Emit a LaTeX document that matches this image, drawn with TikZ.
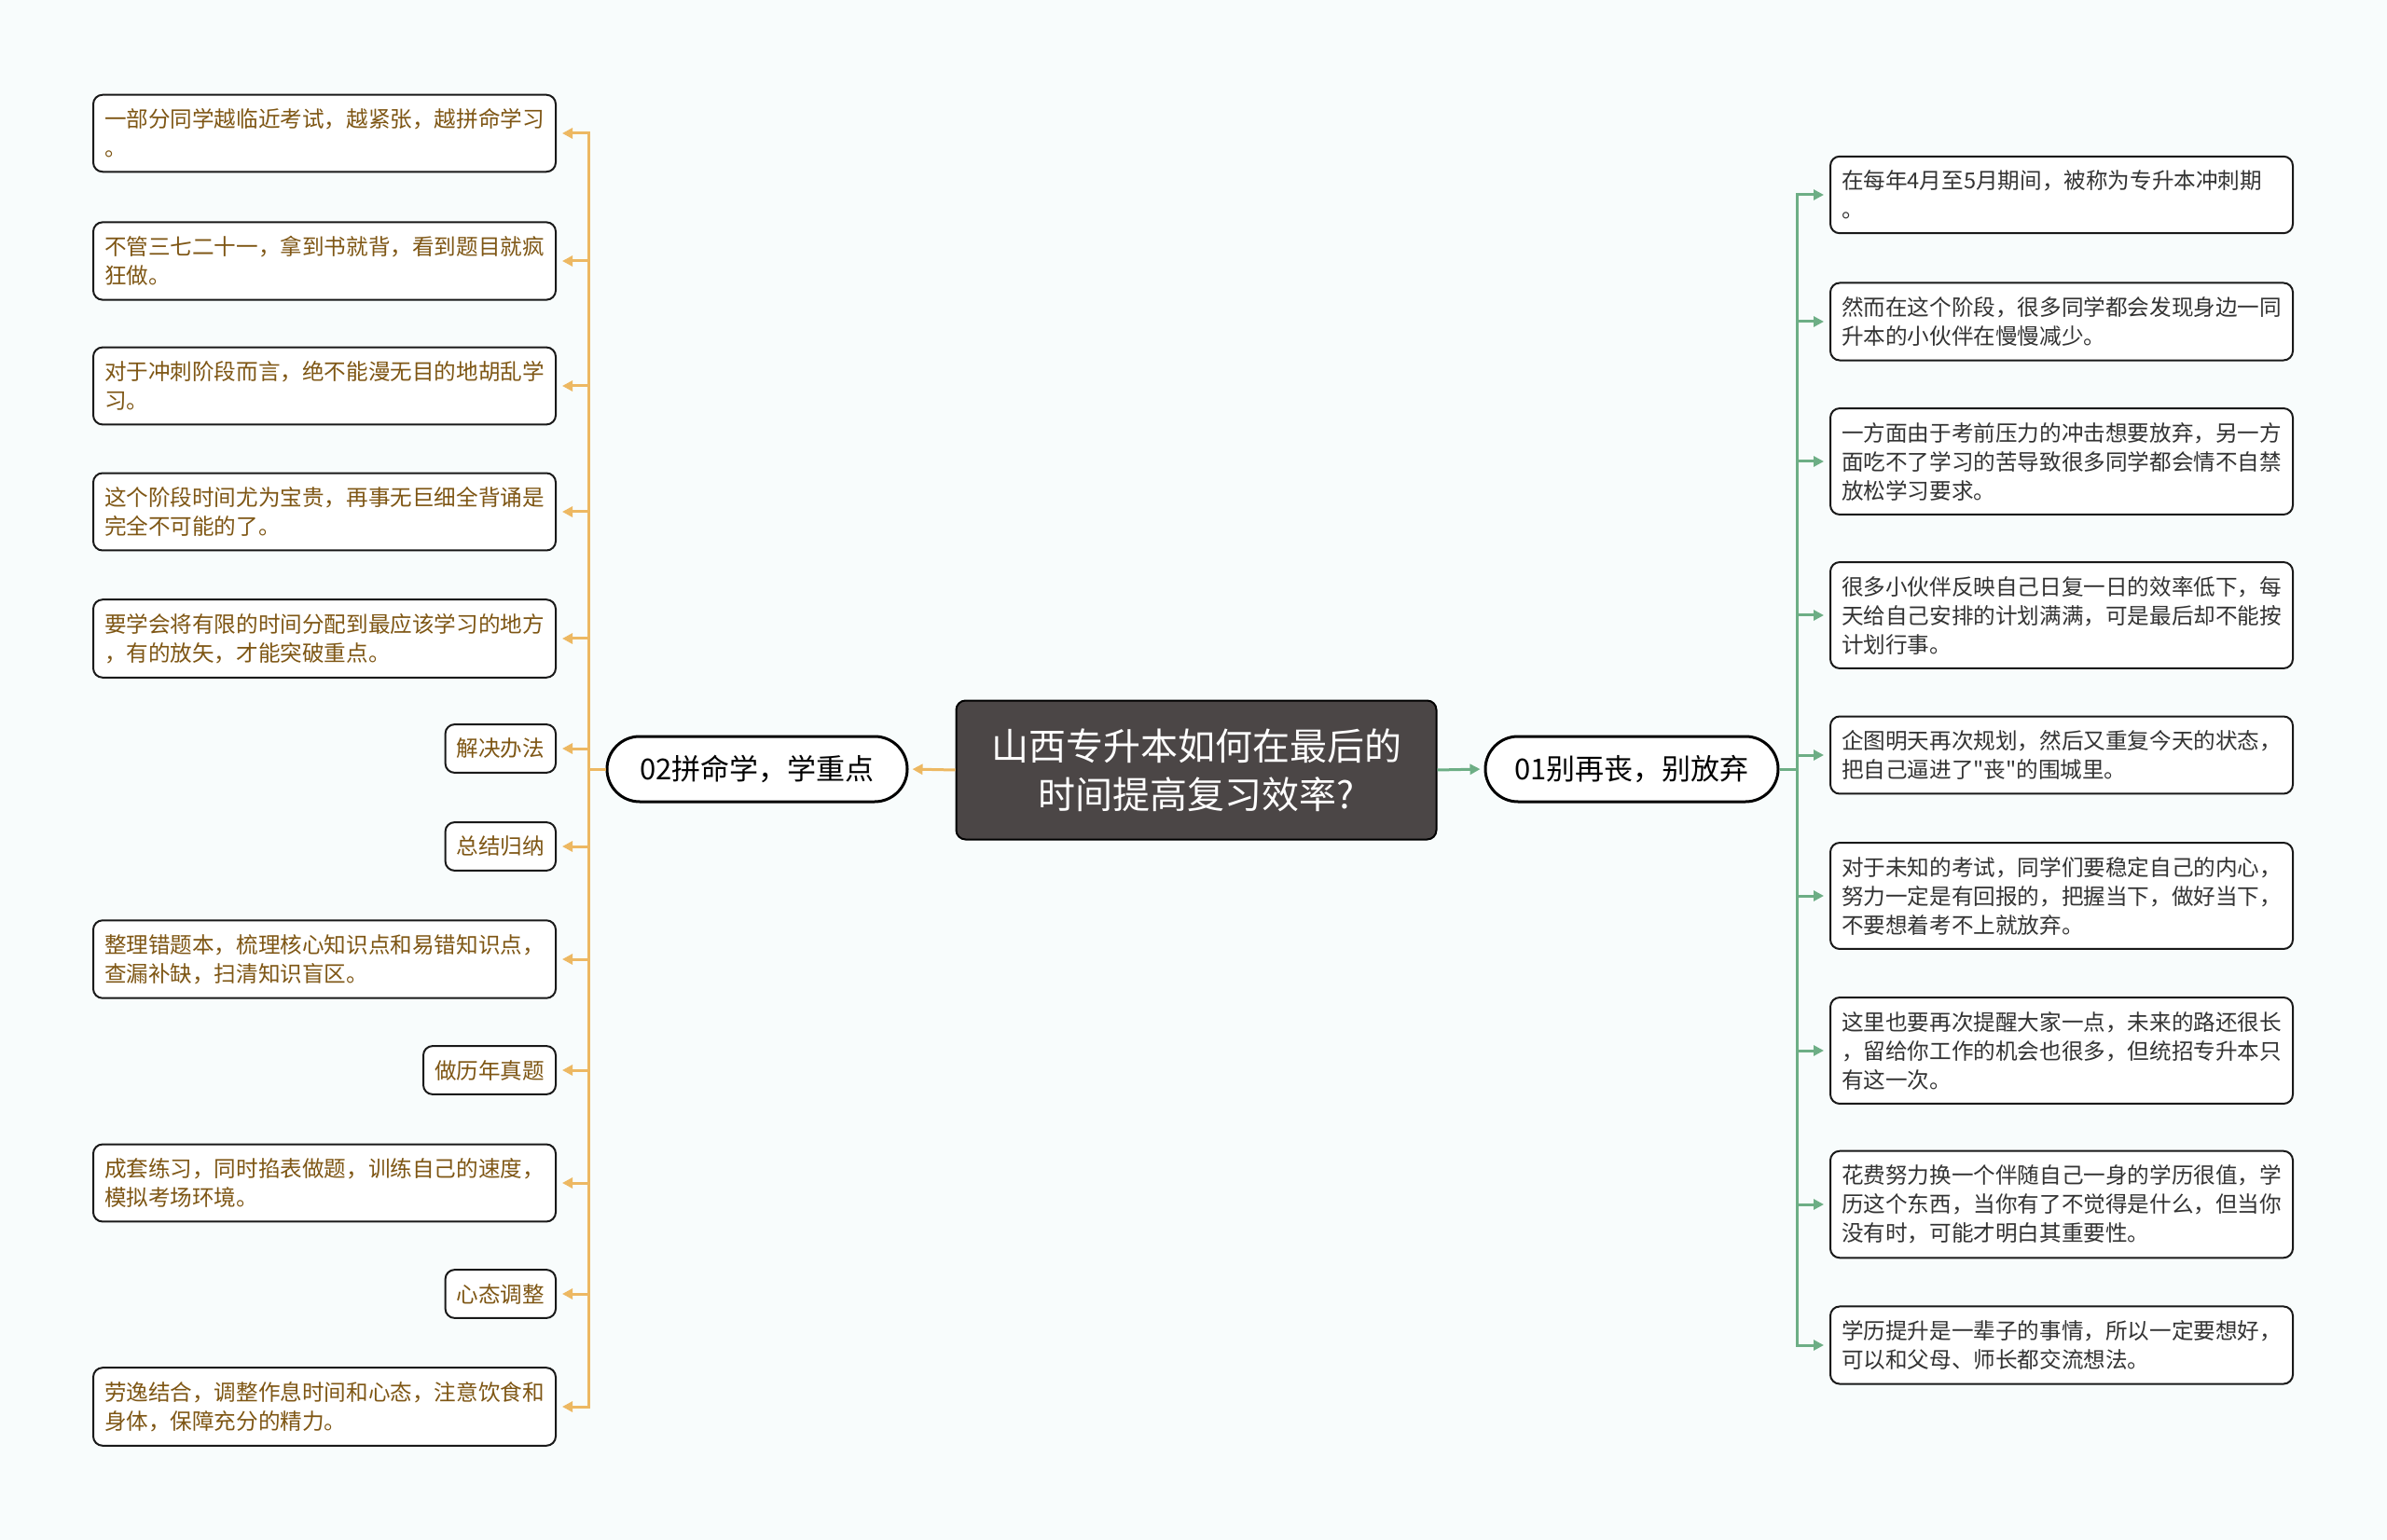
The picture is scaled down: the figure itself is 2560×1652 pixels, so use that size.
\documentclass[tikz,border=0pt]{standalone}
\usepackage{fontspec}
\usepackage{xcolor}
\usetikzlibrary{arrows.meta,positioning}
\newfontfamily\cjk{Noto Sans CJK SC}
\definecolor{Bg}{HTML}{F8FCFC}
\definecolor{RootFill}{HTML}{4B4646}
\definecolor{Gold}{HTML}{EDB862}
\definecolor{GoldText}{HTML}{7E5614}
\definecolor{Sage}{HTML}{6DAE85}
\definecolor{Ink}{HTML}{333333}
\tikzset{
  root/.style={draw=black,fill=RootFill,line width=1pt,rounded corners=5pt,minimum width=257.5pt,minimum height=74.5pt,align=center,text=white,font=\cjk\fontsize{20}{26}\selectfont},
  branch/.style={draw=black,fill=white,line width=1.5pt,rounded corners=17.5pt,minimum height=35pt,align=center,text=black,font=\cjk\fontsize{15.5}{18}\selectfont},
  leaf/.style={draw=black!90,fill=white,line width=1pt,rounded corners=5pt,inner xsep=6pt,inner ysep=7.5pt,font=\cjk\fontsize{11.8}{15.5}\selectfont},
  lleaf/.style={leaf,text=GoldText,anchor=east},
  rleaf/.style={leaf,text=Ink,anchor=west},
  wide/.style={text width=236pt,align=left},
  oarr/.style={-{Triangle[length=5.5pt,width=5.5pt]},draw=Gold,line width=1.5pt},
  garr/.style={-{Triangle[length=5.5pt,width=5.5pt]},draw=Sage,line width=1.5pt}
}
\begin{document}
\begin{tikzpicture}[x=0.5pt,y=-0.5pt]
  \useasboundingbox (0,0) rectangle (2560,1652);
  \fill[Bg] (0,0) rectangle (2560,1652);
  % centre and the two branches
  \node[root] (root) at (1283,826) {山西专升本如何在最后的\\时间提高复习效率?};
  \node[branch,minimum width=161pt] (l02) at (812,825) {02拼命学，学重点};
  \node[branch,minimum width=157pt] (r01) at (1750,825) {01别再丧，别放弃};
  \coordinate (ltrunk) at (631,0);
  \coordinate (rtrunk) at (1927,0);
  % left leaves
  \node[lleaf,wide] (lf1) at (597,143) {一部分同学越临近考试，越紧张，越拼命学习\\。};
  \node[lleaf,wide] (lf2) at (597,280) {不管三七二十一，拿到书就背，看到题目就疯\\狂做。};
  \node[lleaf,wide] (lf3) at (597,414) {对于冲刺阶段而言，绝不能漫无目的地胡乱学\\习。};
  \node[lleaf,wide] (lf4) at (597,549) {这个阶段时间尤为宝贵，再事无巨细全背诵是\\完全不可能的了。};
  \node[lleaf,wide] (lf5) at (597,685) {要学会将有限的时间分配到最应该学习的地方\\，有的放矢，才能突破重点。};
  \node[lleaf] (lf6) at (597,803) {解决办法};
  \node[lleaf] (lf7) at (597,908) {总结归纳};
  \node[lleaf,wide] (lf8) at (597,1029) {整理错题本，梳理核心知识点和易错知识点，\\查漏补缺，扫清知识盲区。};
  \node[lleaf] (lf9) at (597,1148) {做历年真题};
  \node[lleaf,wide] (lf10) at (597,1269) {成套练习，同时掐表做题，训练自己的速度，\\模拟考场环境。};
  \node[lleaf] (lf11) at (597,1388) {心态调整};
  \node[lleaf,wide] (lf12) at (597,1509) {劳逸结合，调整作息时间和心态，注意饮食和\\身体，保障充分的精力。};
  % right leaves
  \node[rleaf,wide] (rf1) at (1962,209) {在每年4月至5月期间，被称为专升本冲刺期\\。};
  \node[rleaf,wide] (rf2) at (1962,345) {然而在这个阶段，很多同学都会发现身边一同\\升本的小伙伴在慢慢减少。};
  \node[rleaf,wide] (rf3) at (1962,495) {一方面由于考前压力的冲击想要放弃，另一方\\面吃不了学习的苦导致很多同学都会情不自禁\\放松学习要求。};
  \node[rleaf,wide] (rf4) at (1962,660) {很多小伙伴反映自己日复一日的效率低下，每\\天给自己安排的计划满满，可是最后却不能按\\计划行事。};
  \node[rleaf,wide] (rf5) at (1962,810) {企图明天再次规划，然后又重复今天的状态，\\把自己逼进了"丧"的围城里。};
  \node[rleaf,wide] (rf6) at (1962,961) {对于未知的考试，同学们要稳定自己的内心，\\努力一定是有回报的，把握当下，做好当下，\\不要想着考不上就放弃。};
  \node[rleaf,wide] (rf7) at (1962,1127) {这里也要再次提醒大家一点，未来的路还很长\\，留给你工作的机会也很多，但统招专升本只\\有这一次。};
  \node[rleaf,wide] (rf8) at (1962,1292) {花费努力换一个伴随自己一身的学历很值，学\\历这个东西，当你有了不觉得是什么，但当你\\没有时，可能才明白其重要性。};
  \node[rleaf,wide] (rf9) at (1962,1443) {学历提升是一辈子的事情，所以一定要想好，\\可以和父母、师长都交流想法。};
  % connectors
  \draw[oarr,shorten >=2pt] (root.west) -- (l02.east);
  \draw[garr,shorten >=2pt] (root.east) -- (r01.west);
  \foreach \n in {lf1,lf2,lf3,lf4,lf5,lf6,lf7,lf8,lf9,lf10,lf11,lf12}
    \draw[oarr,shorten >=3pt] (l02.west) -- (ltrunk |- l02.west) |- (\n.east);
  \foreach \n in {rf1,rf2,rf3,rf4,rf5,rf6,rf7,rf8,rf9}
    \draw[garr,shorten >=3pt] (r01.east) -- (rtrunk |- r01.east) |- (\n.west);
\end{tikzpicture}
\end{document}
